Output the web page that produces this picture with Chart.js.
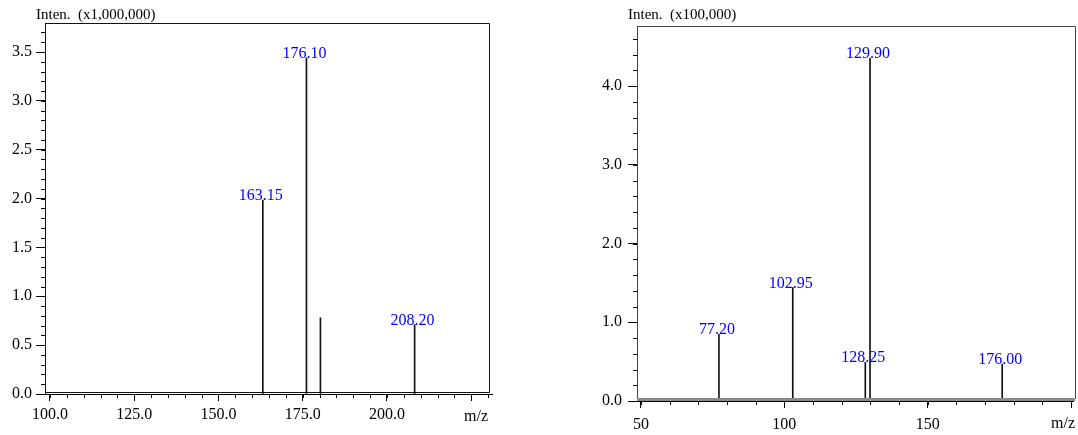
<!DOCTYPE html>
<html>
<head>
<meta charset="utf-8">
<script src="https://cdn.jsdelivr.net/npm/chart.js@4.4.1/dist/chart.umd.min.js"></script>
<style>
  html, body { margin:0; padding:0; background:#fff; }
  #wrap { position:relative; width:1078px; height:435px; }
  .pane { position:absolute; top:0; height:435px; }
</style>
</head>
<body>
<div id="wrap">
  <div class="pane" style="left:0;width:540px"><canvas id="msLeft"></canvas></div>
  <div class="pane" style="left:540px;width:538px"><canvas id="msRight"></canvas></div>
</div>
<script>
// left spectrum (x1,000,000)
const leftMz     = [163.15, 176.10, 180.25, 208.20];
const leftInten  = [1.985, 3.44, 0.78, 0.71];
const leftPeaks  = ['163.15', '176.10', '', '208.20'];
const leftXTicks = [100, 125, 150, 175, 200, 225];
const leftYTicks = [0, 0.5, 1.0, 1.5, 2.0, 2.5, 3.0, 3.5];

// right spectrum (x100,000)
const rightMz     = [77.20, 102.95, 128.25, 129.90, 176.00];
const rightInten  = [0.847, 1.44, 0.49, 4.35, 0.47];
const rightPeaks  = ['77.20', '102.95', '128.25', '129.90', '176.00'];
const rightXTicks = [50, 100, 150, 200];
const rightYTicks = [0, 1.0, 2.0, 3.0, 4.0];

const SERIF = '"Liberation Serif", "DejaVu Serif", serif';

// box, minor ticks, peak labels, titles
const spectrumDecor = {
  id: 'spectrumDecor',
  afterDatasetsDraw(chart, args, o){
    const ctx = chart.ctx, a = chart.chartArea;
    const xs = chart.scales.x, ys = chart.scales.y;
    ctx.save();
    // frame
    ctx.strokeStyle = o.frameColor; ctx.lineWidth = 1;
    ctx.beginPath();
    ctx.moveTo(a.left + 0.5, o.boxBottom);
    ctx.lineTo(a.left + 0.5, a.top + 0.5);
    ctx.lineTo(o.boxRight + 0.5, a.top + 0.5);
    ctx.lineTo(o.boxRight + 0.5, o.boxBottom + 0.5);
    ctx.lineTo(a.left, o.boxBottom + 0.5);
    ctx.stroke();
    if(o.band){
      ctx.fillStyle = '#8a8a8a';
      ctx.fillRect(a.left, o.boxBottom, o.boxRight - a.left, a.bottom - o.boxBottom);
    }
    // minor ticks
    ctx.strokeStyle = '#000'; ctx.lineWidth = 1;
    ctx.beginPath();
    const xStart = Math.ceil(xs.min / o.xMinor) * o.xMinor;
    for(let v = xStart; v <= xs.max + 1e-9; v += o.xMinor){
      const px = Math.round(xs.getPixelForValue(v)) + 0.5;
      ctx.moveTo(px, a.bottom); ctx.lineTo(px, a.bottom + 4);
    }
    for(let v = 0; v <= ys.max + 1e-9; v += o.yMinor){
      const py = Math.round(ys.getPixelForValue(v)) + 0.5;
      ctx.moveTo(a.left, py); ctx.lineTo(a.left - 4, py);
    }
    ctx.stroke();
    // peak labels
    const meta = chart.getDatasetMeta(0);
    ctx.fillStyle = '#0000ff';
    ctx.font = '16px ' + SERIF;
    ctx.textAlign = 'center'; ctx.textBaseline = 'alphabetic';
    meta.data.forEach((bar, i) => {
      const t = o.peaks[i];
      if(t) ctx.fillText(t, bar.x - 2, bar.y);
    });
    // titles
    ctx.fillStyle = '#000';
    ctx.font = '15px ' + SERIF;
    ctx.textAlign = 'left';
    ctx.fillText(o.title, o.titleX, 19);
    ctx.font = '16px ' + SERIF;
    ctx.textAlign = 'right';
    ctx.fillText('m/z', o.mzRight, o.mzY);
    ctx.restore();
  }
};

function makeSpectrum(canvasId, cfg){
  return new Chart(document.getElementById(canvasId), {
    type: 'bar',
    data: {
      datasets: [{
        data: cfg.mz.map((m, i) => ({ x: m, y: cfg.inten[i] })),
        backgroundColor: '#111',
        borderWidth: 0,
        barThickness: 1
      }]
    },
    options: {
      responsive: true,
      maintainAspectRatio: false,
      animation: false,
      events: [],
      layout: { padding: { top: cfg.top, right: cfg.padRight, left: 0, bottom: 0 } },
      plugins: {
        legend: { display: false },
        tooltip: { enabled: false },
        spectrumDecor: cfg.decor
      },
      scales: {
        x: {
          type: 'linear',
          offset: false,
          min: cfg.xMin, max: cfg.xMax,
          afterBuildTicks: s => { s.ticks = cfg.xTicks.map(v => ({ value: v })); },
          afterFit: s => { s.height = cfg.xAxisH; },
          grid: { offset: false, drawOnChartArea: false, drawTicks: true, tickLength: 7, color: '#000' },
          border: { color: '#000', width: 1 },
          ticks: {
            autoSkip: false, maxRotation: 0, padding: cfg.xPad, color: '#000',
            font: { family: SERIF, size: 16 },
            callback: v => (v === cfg.xTicks[cfg.xTicks.length - 1] && cfg.hideLast) ? '' : cfg.xFmt(v)
          }
        },
        y: {
          min: 0, max: cfg.yMax,
          afterBuildTicks: s => { s.ticks = cfg.yTicks.map(v => ({ value: v })); },
          afterFit: s => { s.width = cfg.left; },
          grid: { drawOnChartArea: false, drawTicks: true, tickLength: 9, color: '#000' },
          border: { color: '#000', width: 1 },
          ticks: {
            autoSkip: false, padding: cfg.yPad, color: '#000',
            font: { family: SERIF, size: 16 },
            callback: v => v.toFixed(1)
          }
        }
      }
    },
    plugins: [spectrumDecor]
  });
}

makeSpectrum('msLeft', {
  mz: leftMz, inten: leftInten, xTicks: leftXTicks, yTicks: leftYTicks,
  xMin: 98.52, xMax: 231.16, yMax: 3.797,
  top: 23, left: 45, padRight: 48, xAxisH: 41, xPad: 4, yPad: 4,
  hideLast: true, xFmt: v => v.toFixed(1),
  decor: {
    peaks: leftPeaks, frameColor: '#111', boxRight: 489, boxBottom: 392, band: false,
    xMinor: 5, yMinor: 0.1, title: 'Inten.  (x1,000,000)', titleX: 36, mzRight: 488, mzY: 421
  }
});

makeSpectrum('msRight', {
  mz: rightMz, inten: rightInten, xTicks: rightXTicks, yTicks: rightYTicks,
  xMin: 48.62, xMax: 200.85, yMax: 4.762,
  top: 26, left: 97, padRight: 0, xAxisH: 34, xPad: 7, yPad: 6,
  hideLast: true, xFmt: v => String(v),
  decor: {
    peaks: rightPeaks, frameColor: '#444', boxRight: 535, boxBottom: 398, band: true,
    xMinor: 10, yMinor: 0.2, title: 'Inten.  (x100,000)', titleX: 88, mzRight: 535, mzY: 428
  }
});
</script>
</body>
</html>
